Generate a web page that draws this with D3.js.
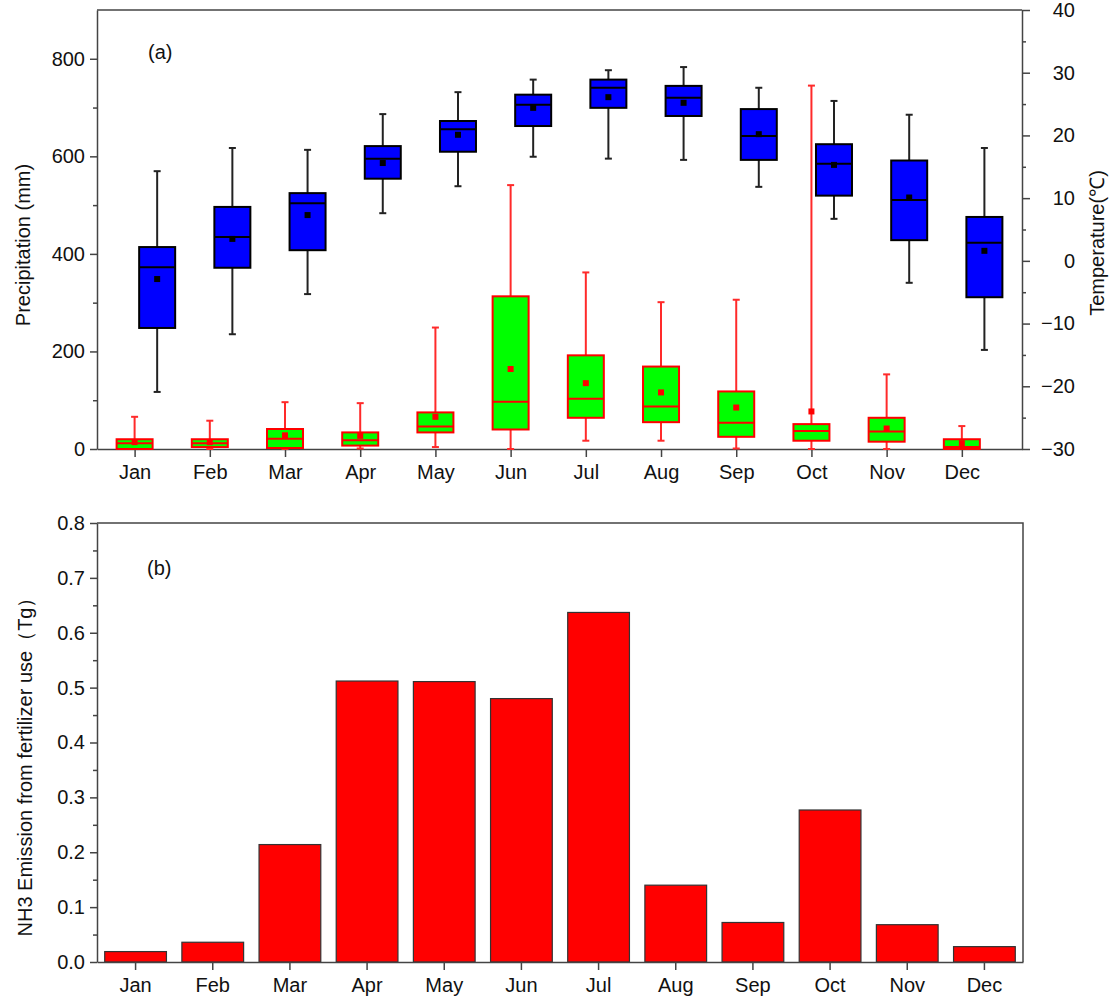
<!DOCTYPE html>
<html>
<head>
<meta charset="utf-8">
<script src="https://cdn.jsdelivr.net/npm/d3@7"></script>
<style>
  body { margin: 0; background: #fff; }
  svg { font-family: "Liberation Sans", Arial, sans-serif; }
  .axis path, .axis line { stroke: #444; stroke-width: 1.5; }
  .axis text { font-size: 20px; fill: #111; }
</style>
</head>
<body>
<div id="chart"></div>
<script>
const months = ["Jan", "Feb", "Mar", "Apr", "May", "Jun", "Jul", "Aug", "Sep", "Oct", "Nov", "Dec"];

// precipitation (mm) box stats, left axis
const precipMax = [66, 58, 96, 94, 249, 541, 362, 301, 306, 745, 153, 47];
const precipQ3 = [20, 20, 41, 34, 75, 313, 192, 169, 118, 51, 64, 20];
const precipMedian = [12, 12, 21, 18, 46, 97, 103, 87, 54, 37, 36, 4];
const precipMean = [14, 14, 28, 27, 66, 164, 135, 116, 85, 77, 42, 12];
const precipQ1 = [0, 4, 2, 7, 34, 40, 64, 55, 25, 17, 15, 0];
const precipMin = [0, 0, 0, 1, 4, 0, 17, 17, 1, 0, 0, 0];

// temperature (C) box stats, right axis
const tempMax = [14.3, 18.0, 17.7, 23.4, 26.9, 28.9, 30.4, 30.9, 27.6, 25.5, 23.3, 18.0];
const tempQ3 = [2.2, 8.6, 10.8, 18.3, 22.3, 26.5, 28.9, 27.9, 24.2, 18.6, 16.0, 7.0];
const tempMedian = [-1.0, 3.8, 9.2, 16.3, 21.0, 24.9, 27.6, 26.0, 19.9, 15.5, 9.7, 2.9];
const tempMean = [-2.9, 3.5, 7.3, 15.6, 20.1, 24.4, 26.1, 25.2, 20.2, 15.3, 10.1, 1.6];
const tempQ1 = [-10.7, -1.1, 1.7, 13.1, 17.4, 21.5, 24.4, 23.1, 16.1, 10.4, 3.3, -5.8];
const tempMin = [-20.9, -11.7, -5.3, 7.6, 11.9, 16.6, 16.3, 16.1, 11.8, 6.7, -3.5, -14.2];

// NH3 emission from fertilizer use (Tg)
const nh3 = [0.019, 0.036, 0.214, 0.512, 0.511, 0.480, 0.637, 0.140, 0.072, 0.277, 0.068, 0.028];

const svg = d3.select("#chart").append("svg")
    .attr("width", 1112)
    .attr("height", 1001);

// ---------- panel (a) ----------
const a = { left: 97, right: 1022, top: 10, bottom: 449 };

const xA = d3.scaleLinear().domain([-0.5, 11.8]).range([a.left, a.right]);
const yP = d3.scaleLinear().domain([0, 900]).range([a.bottom, a.top]);
const yT = d3.scaleLinear().domain([-30, 40]).range([a.bottom, a.top]);

// frame top line
svg.append("line")
    .attr("x1", a.left).attr("x2", a.right)
    .attr("y1", a.top).attr("y2", a.top)
    .attr("stroke", "#444").attr("stroke-width", 1.5);

// left axis
svg.append("g").attr("class", "axis")
    .attr("transform", `translate(${a.left},0)`)
    .call(d3.axisLeft(yP).tickValues([100, 300, 500, 700]).tickSize(4).tickFormat(""))
    .call(g => g.select(".domain").remove());
svg.append("g").attr("class", "axis")
    .attr("transform", `translate(${a.left},0)`)
    .call(d3.axisLeft(yP).tickValues([0, 200, 400, 600, 800]).tickSize(7).tickSizeOuter(0).tickPadding(5));

// right axis
svg.append("g").attr("class", "axis")
    .attr("transform", `translate(${a.right},0)`)
    .call(d3.axisRight(yT).tickValues(d3.range(-25, 40, 10)).tickSize(4).tickFormat(""))
    .call(g => g.select(".domain").remove());
svg.append("g").attr("class", "axis")
    .attr("transform", `translate(${a.right},0)`)
    .call(d3.axisRight(yT).tickValues(d3.range(-30, 41, 10)).tickSize(8).tickSizeOuter(0))
    .call(g => g.selectAll(".tick text").attr("text-anchor", "end").attr("x", 53));

// bottom axis
svg.append("g").attr("class", "axis")
    .attr("transform", `translate(0,${a.bottom})`)
    .call(d3.axisBottom(xA).tickValues(d3.range(12)).tickFormat(i => months[i])
        .tickSize(8).tickSizeOuter(0).tickPadding(8));

const boxW = 36, capW = 7, meanS = 6;

function drawBoxes(y, stats, offset, fill, stroke, lineColor) {
    const g = svg.append("g");
    const d = months.map((m, i) => ({
        x: xA(i + offset), max: stats[0][i], q3: stats[1][i], med: stats[2][i],
        mean: stats[3][i], q1: stats[4][i], min: stats[5][i]
    }));
    const box = g.selectAll(".box").data(d).join("g");
    box.append("line")
        .attr("x1", b => b.x).attr("x2", b => b.x)
        .attr("y1", b => y(b.max)).attr("y2", b => y(b.q3))
        .attr("stroke", lineColor).attr("stroke-width", 2);
    box.append("line")
        .attr("x1", b => b.x).attr("x2", b => b.x)
        .attr("y1", b => y(b.q1)).attr("y2", b => y(b.min))
        .attr("stroke", lineColor).attr("stroke-width", 2);
    box.append("line")
        .attr("x1", b => b.x - capW / 2).attr("x2", b => b.x + capW / 2)
        .attr("y1", b => y(b.max)).attr("y2", b => y(b.max))
        .attr("stroke", lineColor).attr("stroke-width", 2);
    box.append("line")
        .attr("x1", b => b.x - capW / 2).attr("x2", b => b.x + capW / 2)
        .attr("y1", b => y(b.min)).attr("y2", b => y(b.min))
        .attr("stroke", lineColor).attr("stroke-width", 2);
    box.append("rect")
        .attr("x", b => b.x - boxW / 2).attr("width", boxW)
        .attr("y", b => y(b.q3)).attr("height", b => y(b.q1) - y(b.q3))
        .attr("fill", fill).attr("stroke", stroke).attr("stroke-width", 2);
    box.append("line")
        .attr("x1", b => b.x - boxW / 2).attr("x2", b => b.x + boxW / 2)
        .attr("y1", b => y(b.med)).attr("y2", b => y(b.med))
        .attr("stroke", stroke).attr("stroke-width", 2);
    box.append("rect")
        .attr("x", b => b.x - meanS / 2).attr("y", b => y(b.mean) - meanS / 2)
        .attr("width", meanS).attr("height", meanS)
        .attr("fill", stroke);
}

drawBoxes(yT, [tempMax, tempQ3, tempMedian, tempMean, tempQ1, tempMin], 0.3, "#0000ff", "#000", "#222");
drawBoxes(yP, [precipMax, precipQ3, precipMedian, precipMean, precipQ1, precipMin], 0, "#00ff00", "#ff0000", "#ff2a2a");

svg.append("text").attr("x", 148).attr("y", 59).attr("font-size", 20).attr("fill", "#111").text("(a)");

svg.append("text")
    .attr("transform", `translate(30,245) rotate(-90)`)
    .attr("text-anchor", "middle").attr("font-size", 20).attr("fill", "#111")
    .text("Precipitation (mm)");
svg.append("text")
    .attr("transform", `translate(1104,243) rotate(-90)`)
    .attr("text-anchor", "middle").attr("font-size", 20).attr("fill", "#111")
    .text("Temperature(℃)");

// ---------- panel (b) ----------
const b = { left: 97, right: 1023, top: 523, bottom: 962 };

const xB = d3.scaleBand().domain(months).range([b.left, b.right])
    .paddingInner(0.2).paddingOuter(0.1);
const yB = d3.scaleLinear().domain([0, 0.8]).range([b.bottom, b.top]);

svg.append("g")
    .selectAll("rect")
    .data(nh3)
    .join("rect")
    .attr("x", (d, i) => xB(months[i]))
    .attr("width", xB.bandwidth())
    .attr("y", d => yB(d))
    .attr("height", d => yB(0) - yB(d))
    .attr("fill", "#ff0000")
    .attr("stroke", "#333")
    .attr("stroke-width", 1.2);

svg.append("path")
    .attr("d", `M${b.left},${b.top}H${b.right}V${b.bottom}`)
    .attr("fill", "none").attr("stroke", "#444").attr("stroke-width", 1.5);

svg.append("g").attr("class", "axis")
    .attr("transform", `translate(${b.left},0)`)
    .call(d3.axisLeft(yB).tickValues(d3.range(0.05, 0.8, 0.1)).tickSize(4).tickFormat(""))
    .call(g => g.select(".domain").remove());
svg.append("g").attr("class", "axis")
    .attr("transform", `translate(${b.left},0)`)
    .call(d3.axisLeft(yB).tickValues(d3.range(0, 0.81, 0.1)).tickFormat(d3.format(".1f"))
        .tickSize(7).tickSizeOuter(0).tickPadding(5));

svg.append("g").attr("class", "axis")
    .attr("transform", `translate(0,${b.bottom})`)
    .call(d3.axisBottom(xB).tickSize(8).tickSizeOuter(0).tickPadding(8));

svg.append("text").attr("x", 147).attr("y", 575).attr("font-size", 20).attr("fill", "#111").text("(b)");

svg.append("text")
    .attr("transform", `translate(32,762) rotate(-90)`)
    .attr("text-anchor", "middle").attr("font-size", 20).attr("fill", "#111")
    .text("NH3 Emission from fertilizer use（Tg）");
</script>
</body>
</html>
